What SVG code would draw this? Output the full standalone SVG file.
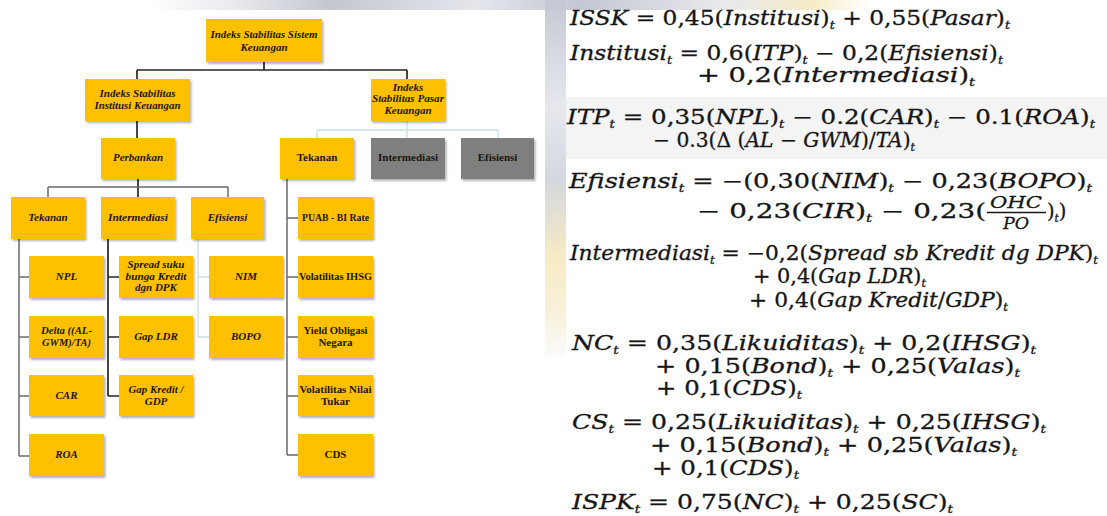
<svg xmlns="http://www.w3.org/2000/svg" width="1107" height="516" viewBox="0 0 1107 516">
<style>
.y{fill:#FFC000;filter:url(#sh)}
.g{fill:#7F7F7F;filter:url(#sh)}
.t{font-family:"Liberation Serif","DejaVu Serif",serif;font-size:11px;font-weight:bold;font-style:italic;fill:#1c1608;text-anchor:middle}
.u{font-style:normal}
.dk{stroke:#262626;stroke-width:1.7;fill:none}
.md{stroke:#6a6a6a;stroke-width:1.5;fill:none}
.lt{stroke:#c9dfe5;stroke-width:1.3;fill:none}
.eq{font-family:"DejaVu Serif","Liberation Serif",serif;font-size:19.5px;fill:#161616;stroke:#161616;stroke-width:0.3}
.i{font-style:italic}
.sb{font-size:10.5px;font-style:italic}
.fr{font-family:"DejaVu Serif","Liberation Serif",serif;font-size:17.5px;font-style:italic;fill:#161616;stroke:#161616;stroke-width:0.3;text-anchor:middle}
</style>
<defs>
<filter id="sh" x="-10%" y="-10%" width="130%" height="140%">
<feDropShadow dx="1.5" dy="2" stdDeviation="1" flood-color="#000" flood-opacity="0.3"/>
</filter>
<linearGradient id="topband" x1="0" y1="0" x2="1" y2="0">
<stop offset="0" stop-color="#ffffff"/>
<stop offset="0.12" stop-color="#e8e9ee"/>
<stop offset="0.25" stop-color="#c3c7d0"/>
<stop offset="0.45" stop-color="#e4e6ec"/>
<stop offset="0.6" stop-color="#c4c8d2"/>
<stop offset="0.8" stop-color="#e9e9ee"/>
<stop offset="0.92" stop-color="#f6ecc6"/>
<stop offset="1" stop-color="#ffffff"/>
</linearGradient>
<linearGradient id="strip" x1="0" y1="0" x2="0" y2="1">
<stop offset="0" stop-color="#c5c9d3"/>
<stop offset="0.3" stop-color="#e6e8ee"/>
<stop offset="0.5" stop-color="#d3d7df"/>
<stop offset="0.72" stop-color="#f7ebc4"/>
<stop offset="0.9" stop-color="#f8f2e0"/>
<stop offset="1" stop-color="#fbfbfb"/>
</linearGradient>
</defs>
<rect x="0" y="0" width="1107" height="516" fill="#ffffff"/>
<rect x="150" y="0" width="720" height="10" fill="url(#topband)"/>
<rect x="545" y="0" width="21" height="357" fill="url(#strip)"/>
<rect x="566" y="97" width="541" height="62" fill="#f4f4f4"/>

<g id="connectors">
<path class="dk" d="M264 62V70M137 70H407M137 70V79M407 70V79M137 121V138M138 179V197"/>
<path class="md" d="M48 187H228M48 187V197M228 187V197"/>
<path class="lt" d="M407 121V130M317 130H498M317 130V138M407 130V138M498 130V138"/>
<path class="md" d="M19 239V456M19 277H29M19 337H29M19 396H29M19 456H29"/>
<path class="dk" d="M108 239V396M108 277H119M108 337H119M108 396H119"/>
<path class="lt" d="M198 239V337M198 277H209M198 337H209"/>
<path class="md" d="M287 179V455M287 218H298M287 277H298M287 337H298M287 396H298M287 455H298"/>
</g>

<g id="n-root"><rect class="y" x="206" y="19" width="116" height="43"/><text class="t" x="264" y="38" textLength="107" lengthAdjust="spacingAndGlyphs">Indeks Stabilitas Sistem</text><text class="t" x="264" y="51">Keuangan</text></g>
<g id="n-isik"><rect class="y" x="85" y="79" width="105" height="42"/><text class="t" x="137.5" y="97" textLength="76" lengthAdjust="spacingAndGlyphs">Indeks Stabilitas</text><text class="t" x="137.5" y="109" textLength="86" lengthAdjust="spacingAndGlyphs">Institusi Keuangan</text></g>
<g id="n-ispk"><rect class="y" x="371" y="79" width="74" height="42"/><text class="t" x="408" y="91">Indeks</text><text class="t" x="408" y="102" textLength="72" lengthAdjust="spacingAndGlyphs">Stabilitas Pasar</text><text class="t" x="408" y="114">Keuangan</text></g>
<g id="n-perbankan"><rect class="y" x="101" y="138" width="74" height="41"/><text class="t" x="138" y="161">Perbankan</text></g>
<g id="n-tekanan-pasar"><rect class="y" x="280" y="138" width="74" height="41"/><text class="t u" x="317" y="161">Tekanan</text></g>
<g id="n-intermediasi-pasar"><rect class="g" x="371" y="138" width="74" height="41"/><text class="t u" x="408" y="161" textLength="60" lengthAdjust="spacingAndGlyphs">Intermediasi</text></g>
<g id="n-efisiensi-pasar"><rect class="g" x="461" y="138" width="73" height="41"/><text class="t u" x="497.5" y="161">Efisiensi</text></g>
<g id="n-tekanan"><rect class="y" x="11" y="197" width="74" height="42"/><text class="t" x="48" y="221">Tekanan</text></g>
<g id="n-intermediasi"><rect class="y" x="101" y="197" width="74" height="42"/><text class="t" x="138" y="221" textLength="60" lengthAdjust="spacingAndGlyphs">Intermediasi</text></g>
<g id="n-efisiensi"><rect class="y" x="191" y="197" width="73" height="42"/><text class="t" x="227.5" y="221">Efisiensi</text></g>
<g id="n-puab"><rect class="y" x="298" y="197" width="75" height="42"/><text class="t u" x="335.5" y="221" textLength="67" lengthAdjust="spacingAndGlyphs">PUAB - BI Rate</text></g>
<g id="n-npl"><rect class="y" x="29" y="256" width="75" height="42"/><text class="t" x="66.5" y="280">NPL</text></g>
<g id="n-delta"><rect class="y" x="29" y="316" width="75" height="42"/><text class="t" x="66.5" y="334" textLength="51" lengthAdjust="spacingAndGlyphs">Delta ((AL-</text><text class="t" x="66.5" y="346" textLength="49" lengthAdjust="spacingAndGlyphs">GWM)/TA)</text></g>
<g id="n-car"><rect class="y" x="29" y="375" width="75" height="41"/><text class="t" x="66.5" y="399">CAR</text></g>
<g id="n-roa"><rect class="y" x="29" y="434" width="75" height="42"/><text class="t" x="66.5" y="458">ROA</text></g>
<g id="n-spread"><rect class="y" x="119" y="256" width="74" height="42"/><text class="t" x="156" y="268" textLength="57" lengthAdjust="spacingAndGlyphs">Spread suku</text><text class="t" x="156" y="280" textLength="61" lengthAdjust="spacingAndGlyphs">bunga Kredit</text><text class="t" x="156" y="291">dgn DPK</text></g>
<g id="n-gapldr"><rect class="y" x="119" y="316" width="74" height="42"/><text class="t" x="156" y="340">Gap LDR</text></g>
<g id="n-gapkredit"><rect class="y" x="119" y="375" width="74" height="41"/><text class="t" x="156" y="393" textLength="55" lengthAdjust="spacingAndGlyphs">Gap Kredit /</text><text class="t" x="156" y="405">GDP</text></g>
<g id="n-nim"><rect class="y" x="209" y="256" width="74" height="42"/><text class="t" x="246" y="280">NIM</text></g>
<g id="n-bopo"><rect class="y" x="209" y="316" width="74" height="42"/><text class="t" x="246" y="340">BOPO</text></g>
<g id="n-ihsg"><rect class="y" x="298" y="256" width="75" height="42"/><text class="t u" x="335.5" y="280" textLength="73" lengthAdjust="spacingAndGlyphs">Volatilitas IHSG</text></g>
<g id="n-yield"><rect class="y" x="298" y="316" width="75" height="42"/><text class="t u" x="335.5" y="334" textLength="64" lengthAdjust="spacingAndGlyphs">Yield Obligasi</text><text class="t u" x="335.5" y="346">Negara</text></g>
<g id="n-nilaitukar"><rect class="y" x="298" y="375" width="75" height="41"/><text class="t u" x="335.5" y="393" textLength="72" lengthAdjust="spacingAndGlyphs">Volatilitas Nilai</text><text class="t u" x="335.5" y="405">Tukar</text></g>
<g id="n-cds"><rect class="y" x="298" y="434" width="75" height="42"/><text class="t u" x="335.5" y="458">CDS</text></g>

<g id="equations">
<text class="eq" x="570" y="25" textLength="440" lengthAdjust="spacingAndGlyphs"><tspan class="i">ISSK</tspan> = 0,45(<tspan class="i">Institusi</tspan>)<tspan class="sb" dy="3.5">t</tspan><tspan dy="-3.5"> + 0,55(</tspan><tspan class="i">Pasar</tspan>)<tspan class="sb" dy="3.5">t</tspan></text>
<text class="eq" x="570" y="60" textLength="433" lengthAdjust="spacingAndGlyphs"><tspan class="i">Institusi</tspan><tspan class="sb" dy="3.5">t</tspan><tspan dy="-3.5"> = 0,6(</tspan><tspan class="i">ITP</tspan>)<tspan class="sb" dy="3.5">t</tspan><tspan dy="-3.5"> − 0,2(</tspan><tspan class="i">Efisiensi</tspan>)<tspan class="sb" dy="3.5">t</tspan></text>
<text class="eq" x="697" y="82" textLength="278" lengthAdjust="spacingAndGlyphs">+ 0,2(<tspan class="i">Intermediasi</tspan>)<tspan class="sb" dy="3.5">t</tspan></text>
<text class="eq" x="567" y="124" textLength="528" lengthAdjust="spacingAndGlyphs"><tspan class="i">ITP</tspan><tspan class="sb" dy="3.5">t</tspan><tspan dy="-3.5"> = 0,35(</tspan><tspan class="i">NPL</tspan>)<tspan class="sb" dy="3.5">t</tspan><tspan dy="-3.5"> − 0.2(</tspan><tspan class="i">CAR</tspan>)<tspan class="sb" dy="3.5">t</tspan><tspan dy="-3.5"> − 0.1(</tspan><tspan class="i">ROA</tspan>)<tspan class="sb" dy="3.5">t</tspan></text>
<text class="eq" x="653" y="147" textLength="262" lengthAdjust="spacingAndGlyphs">− 0.3(Δ (<tspan class="i">AL</tspan> − <tspan class="i">GWM</tspan>)/<tspan class="i">TA</tspan>)<tspan class="sb" dy="3.5">t</tspan></text>
<text class="eq" x="569" y="188" textLength="523" lengthAdjust="spacingAndGlyphs"><tspan class="i">Efisiensi</tspan><tspan class="sb" dy="3.5">t</tspan><tspan dy="-3.5"> = −(0,30(</tspan><tspan class="i">NIM</tspan>)<tspan class="sb" dy="3.5">t</tspan><tspan dy="-3.5"> − 0,23(</tspan><tspan class="i">BOPO</tspan>)<tspan class="sb" dy="3.5">t</tspan></text>
<text class="eq" x="697" y="218" textLength="289" lengthAdjust="spacingAndGlyphs">− 0,23(<tspan class="i">CIR</tspan>)<tspan class="sb" dy="3.5">t</tspan><tspan dy="-3.5"> − 0,23(</tspan></text>
<text class="fr" x="1016" y="208" textLength="52" lengthAdjust="spacingAndGlyphs">OHC</text>
<line x1="987" y1="212.5" x2="1046" y2="212.5" stroke="#161616" stroke-width="1.4"/>
<text class="fr" x="1016" y="229">PO</text>
<text class="eq" x="1047" y="218">)<tspan class="sb" dy="3.5">t</tspan><tspan dy="-3.5">)</tspan></text>
<text class="eq" x="570" y="260" textLength="528" lengthAdjust="spacingAndGlyphs"><tspan class="i">Intermediasi</tspan><tspan class="sb" dy="3.5">t</tspan><tspan dy="-3.5"> = −0,2(</tspan><tspan class="i">Spread sb Kredit dg DPK</tspan>)<tspan class="sb" dy="3.5">t</tspan></text>
<text class="eq" x="753" y="283" textLength="173" lengthAdjust="spacingAndGlyphs">+ 0,4(<tspan class="i">Gap LDR</tspan>)<tspan class="sb" dy="3.5">t</tspan></text>
<text class="eq" x="749" y="307" textLength="259" lengthAdjust="spacingAndGlyphs">+ 0,4(<tspan class="i">Gap Kredit</tspan>/<tspan class="i">GDP</tspan>)<tspan class="sb" dy="3.5">t</tspan></text>
<text class="eq" x="572" y="350" textLength="464" lengthAdjust="spacingAndGlyphs"><tspan class="i">NC</tspan><tspan class="sb" dy="3.5">t</tspan><tspan dy="-3.5"> = 0,35(</tspan><tspan class="i">Likuiditas</tspan>)<tspan class="sb" dy="3.5">t</tspan><tspan dy="-3.5"> + 0,2(</tspan><tspan class="i">IHSG</tspan>)<tspan class="sb" dy="3.5">t</tspan></text>
<text class="eq" x="655" y="373" textLength="365" lengthAdjust="spacingAndGlyphs">+ 0,15(<tspan class="i">Bond</tspan>)<tspan class="sb" dy="3.5">t</tspan><tspan dy="-3.5"> + 0,25(</tspan><tspan class="i">Valas</tspan>)<tspan class="sb" dy="3.5">t</tspan></text>
<text class="eq" x="656" y="395" textLength="146" lengthAdjust="spacingAndGlyphs">+ 0,1(<tspan class="i">CDS</tspan>)<tspan class="sb" dy="3.5">t</tspan></text>
<text class="eq" x="572" y="429" textLength="474" lengthAdjust="spacingAndGlyphs"><tspan class="i">CS</tspan><tspan class="sb" dy="3.5">t</tspan><tspan dy="-3.5"> = 0,25(</tspan><tspan class="i">Likuiditas</tspan>)<tspan class="sb" dy="3.5">t</tspan><tspan dy="-3.5"> + 0,25(</tspan><tspan class="i">IHSG</tspan>)<tspan class="sb" dy="3.5">t</tspan></text>
<text class="eq" x="650" y="452" textLength="367" lengthAdjust="spacingAndGlyphs">+ 0,15(<tspan class="i">Bond</tspan>)<tspan class="sb" dy="3.5">t</tspan><tspan dy="-3.5"> + 0,25(</tspan><tspan class="i">Valas</tspan>)<tspan class="sb" dy="3.5">t</tspan></text>
<text class="eq" x="652" y="475" textLength="147" lengthAdjust="spacingAndGlyphs">+ 0,1(<tspan class="i">CDS</tspan>)<tspan class="sb" dy="3.5">t</tspan></text>
<text class="eq" x="572" y="509" textLength="381" lengthAdjust="spacingAndGlyphs"><tspan class="i">ISPK</tspan><tspan class="sb" dy="3.5">t</tspan><tspan dy="-3.5"> = 0,75(</tspan><tspan class="i">NC</tspan>)<tspan class="sb" dy="3.5">t</tspan><tspan dy="-3.5"> + 0,25(</tspan><tspan class="i">SC</tspan>)<tspan class="sb" dy="3.5">t</tspan></text>
</g>
</svg>
